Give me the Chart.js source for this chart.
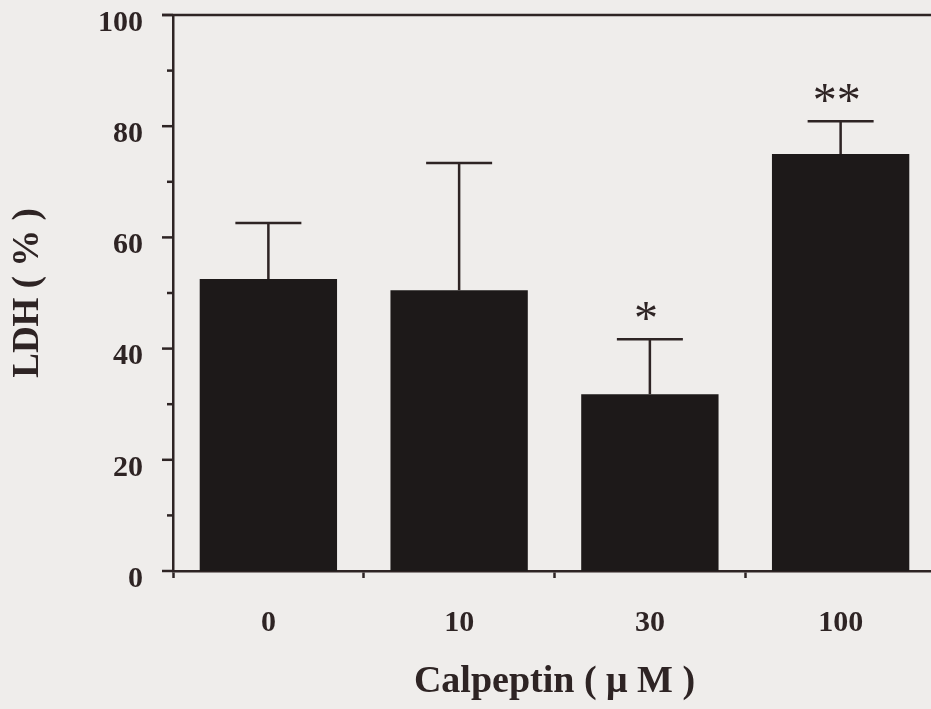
<!DOCTYPE html>
<html>
<head>
<meta charset="utf-8">
<script src="https://cdn.jsdelivr.net/npm/chart.js@4"></script>
<style>
  html, body { margin: 0; padding: 0; background: #efedeb; overflow: hidden; }
  #wrap { width: 931px; height: 709px; overflow: hidden; }
</style>
</head>
<body>
<div id="wrap"><canvas id="myChart" width="936" height="709"></canvas></div>
<script>
// Data
const categories = ["0", "10", "30", "100"];
const ldhMean = [52.5, 50.5, 31.8, 75.0];
const ldhUpper = [62.6, 73.4, 41.7, 80.9];
const marks = ["", "", "*", "**"];
const yTickValues = [0, 20, 40, 60, 80, 100];

const ink = "#2e2424";
const serif = "'Liberation Serif', 'DejaVu Serif', serif";

// error bars, significance marks, y ticks and the top frame line
const extras = {
  id: "extras",
  afterDraw(chart) {
    const ctx = chart.ctx;
    const y = chart.scales.y;
    const meta = chart.getDatasetMeta(0);
    ctx.save();
    ctx.strokeStyle = ink;
    ctx.lineWidth = 2.5;

    // y ticks (major every 20, minor every 10)
    y.ticks.forEach((t) => {
      const py = y.getPixelForValue(t.value);
      const len = t.value % 20 === 0 ? 11 : 6;
      ctx.beginPath();
      ctx.moveTo(chart.chartArea.left - len, py);
      ctx.lineTo(chart.chartArea.left, py);
      ctx.stroke();
    });

    // top frame line at 100
    const top = y.getPixelForValue(100);
    ctx.beginPath();
    ctx.moveTo(chart.chartArea.left - 11, top);
    ctx.lineTo(chart.width, top);
    ctx.stroke();

    // error bars
    meta.data.forEach((bar, i) => {
      const yc = y.getPixelForValue(ldhUpper[i]);
      ctx.beginPath();
      ctx.moveTo(bar.x, bar.y);
      ctx.lineTo(bar.x, yc);
      ctx.moveTo(bar.x - 33, yc);
      ctx.lineTo(bar.x + 33, yc);
      ctx.stroke();

      if (marks[i]) {
        ctx.fillStyle = ink;
        ctx.font = "48px " + serif;
        ctx.textAlign = "center";
        ctx.textBaseline = "middle";
        ctx.fillText(marks[i], bar.x - 4, yc - 18);
      }
    });
    ctx.restore();
  },
};

new Chart("myChart", {
  type: "bar",
  data: {
    labels: categories,
    datasets: [
      {
        data: ldhMean,
        backgroundColor: "#1d1919",
        borderWidth: 0,
        barPercentage: 0.72,
        categoryPercentage: 1.0,
      },
    ],
  },
  options: {
    responsive: false,
    animation: false,
    layout: { padding: { top: 15, right: 0, left: 0, bottom: 0 } },
    plugins: {
      legend: { display: false },
      tooltip: { enabled: false },
    },
    scales: {
      x: {
        afterFit: (scale) => {
          scale.height = 138;
          scale.paddingLeft = 0;
          scale.paddingRight = 0;
        },
        grid: {
          display: true,
          offset: true,
          drawOnChartArea: false,
          drawTicks: true,
          tickLength: 7,
          tickWidth: 2.5,
          color: ink,
        },
        border: { display: true, color: ink, width: 2.5 },
        ticks: {
          color: ink,
          padding: 27,
          font: { family: serif, size: 30, weight: "bold" },
        },
        title: {
          display: true,
          text: "Calpeptin ( \u03bc M )",
          color: ink,
          font: { family: serif, size: 38, weight: "bold" },
          padding: { top: 14 },
        },
      },
      y: {
        min: 0,
        max: 100,
        afterFit: (scale) => {
          scale.width = 173;
          scale.paddingTop = 0;
          scale.paddingBottom = 0;
        },
        grid: { display: false, drawTicks: false },
        border: { display: true, color: ink, width: 2.5 },
        ticks: {
          stepSize: 10,
          color: ink,
          padding: 30,
          labelOffset: 8,
          font: { family: serif, size: 30, weight: "bold" },
          callback: (v) => (yTickValues.includes(v) ? v : ""),
        },
        title: {
          display: true,
          text: "LDH ( % )",
          color: ink,
          font: { family: serif, size: 37, weight: "bold" },
          padding: { top: 6, bottom: 0 },
        },
      },
    },
  },
  plugins: [extras],
});
</script>
</body>
</html>
